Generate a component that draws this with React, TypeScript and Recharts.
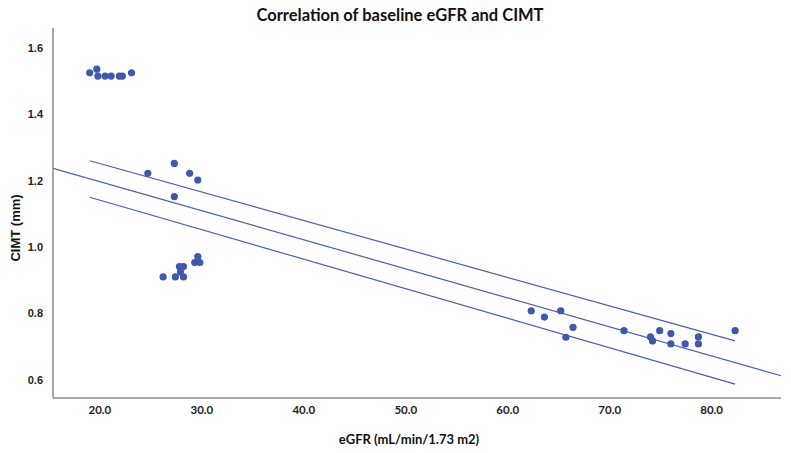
import React from "react";
import {
  ScatterChart,
  Scatter,
  XAxis,
  YAxis,
  Label,
} from "recharts";

// observed patients: baseline eGFR vs CIMT
const EGFR = [
  19.0, 19.7, 19.8, 20.5, 21.1, 21.9, 22.2, 23.1,
  24.7, 27.3, 28.8, 29.6, 27.3,
  26.2, 27.4, 28.2, 27.8, 28.2, 27.9, 29.6, 29.3, 29.8,
  62.3, 63.6, 65.2, 66.4, 65.7,
  71.4, 74.0, 74.2, 74.9, 76.0, 76.0, 77.4, 78.7, 78.7, 82.3,
];
const CIMT = [
  1.525, 1.536, 1.515, 1.515, 1.515, 1.515, 1.515, 1.525,
  1.222, 1.252, 1.222, 1.202, 1.152,
  0.91, 0.91, 0.91, 0.941, 0.941, 0.925, 0.971, 0.953, 0.953,
  0.808, 0.789, 0.808, 0.758, 0.728,
  0.748, 0.729, 0.717, 0.748, 0.739, 0.708, 0.708, 0.729, 0.708, 0.748,
];

// fit line and confidence bounds (end points)
const FIT_X = [15.4, 86.8];
const FIT_Y = [1.237, 0.612];
const CI_X = [19.0, 82.3];
const CI_UPPER = [1.26, 0.717];
const CI_LOWER = [1.15, 0.587];

const X_TICKS = [20, 30, 40, 50, 60, 70, 80];
const Y_TICKS = [0.6, 0.8, 1.0, 1.2, 1.4, 1.6];

const points = EGFR.map((x, i) => ({ x, y: CIMT[i] }));
const fitLine = FIT_X.map((x, i) => ({ x, y: FIT_Y[i] }));
const upperLine = CI_X.map((x, i) => ({ x, y: CI_UPPER[i] }));
const lowerLine = CI_X.map((x, i) => ({ x, y: CI_LOWER[i] }));

const DOT = "#3F58AC";
const LINE = "#4A5FAE";

const noShape = () => <g />;

export default function App() {
  return (
    <div style={{ position: "absolute", left: 0, top: 0, width: 791, height: 453, background: "#fff" }}>
      <div
        style={{
          position: "absolute",
          top: 5,
          left: 0,
          width: 800,
          textAlign: "center",
          fontFamily: "Lato, 'Open Sans', sans-serif",
          fontWeight: 700,
          fontSize: 16.5,
          color: "#111",
        }}
      >
        Correlation of baseline eGFR and CIMT
      </div>
      <ScatterChart width={791} height={453} margin={{ top: 28, right: 10, bottom: 0, left: 0 }}>
        <XAxis
          type="number"
          dataKey="x"
          domain={[15.4, 86.8]}
          ticks={X_TICKS}
          tickFormatter={(v: number) => v.toFixed(1)}
          tickLine={false}
          axisLine={{ stroke: "#8a8a8a", strokeWidth: 1.5 }}
          height={55}
          tick={{ fill: "#222", fontSize: 11.5, fontWeight: 700, fontFamily: "Lato, sans-serif" }}
          allowDataOverflow
        >
          <Label
            value="eGFR (mL/min/1.73 m2)"
            position="insideBottom"
            offset={9}
            dx={-8}
            style={{ fill: "#111", fontSize: 13, fontWeight: 700, fontFamily: "Lato, sans-serif" }}
          />
        </XAxis>
        <YAxis
          type="number"
          dataKey="y"
          domain={[0.545, 1.66]}
          ticks={Y_TICKS}
          tickFormatter={(v: number) => v.toFixed(1)}
          tickLine={false}
          tickMargin={4}
          width={53}
          axisLine={{ stroke: "#8a8a8a", strokeWidth: 1.5 }}
          tick={{ fill: "#222", fontSize: 11, fontWeight: 700, fontFamily: "'Liberation Sans', Arial, sans-serif" }}
          allowDataOverflow
        >
          <Label
            content={(props: any) => {
              const vb = props.viewBox || { x: 0, y: 28, height: 370 };
              const cx = vb.x + 20;
              const cy = vb.y + vb.height / 2 + 15;
              return (
                <text
                  x={cx}
                  y={cy}
                  transform={`rotate(-90, ${cx}, ${cy})`}
                  textAnchor="middle"
                  fill="#111"
                  fontSize={13}
                  fontWeight={700}
                  fontFamily="'Liberation Sans', Arial, sans-serif"
                >
                  CIMT (mm)
                </text>
              );
            }}
          />
        </YAxis>
        <Scatter data={fitLine} line={{ stroke: LINE, strokeWidth: 1.2 }} shape={noShape} isAnimationActive={false} />
        <Scatter data={upperLine} line={{ stroke: LINE, strokeWidth: 1.2 }} shape={noShape} isAnimationActive={false} />
        <Scatter data={lowerLine} line={{ stroke: LINE, strokeWidth: 1.2 }} shape={noShape} isAnimationActive={false} />
        <Scatter
          data={points}
          isAnimationActive={false}
          shape={(p: any) => <circle cx={p.cx} cy={p.cy} r={3.6} fill={DOT} />}
        />
      </ScatterChart>
    </div>
  );
}
